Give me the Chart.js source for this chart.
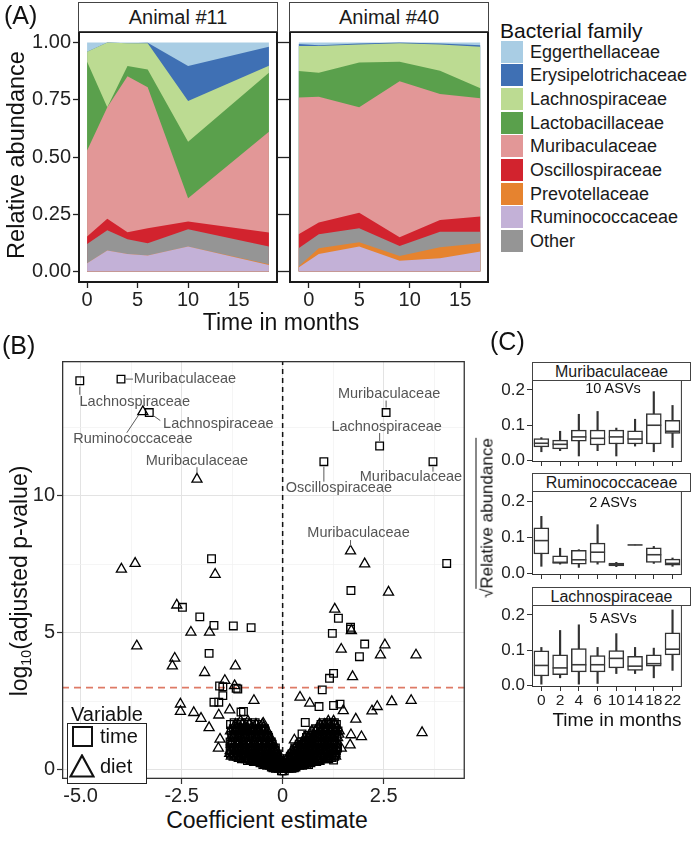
<!DOCTYPE html>
<html>
<head>
<meta charset="utf-8">
<script src="https://cdn.jsdelivr.net/npm/chart.js@4.4.1/dist/chart.umd.min.js"></script>
<style>
  html, body { margin: 0; padding: 0; background: #fff; }
  #fig { position: relative; width: 692px; height: 848px; overflow: hidden; font-family: "Liberation Sans", Arial, sans-serif; color: #111; }
  #fig canvas { position: absolute; }
  .txt { position: absolute; white-space: nowrap; line-height: 1; }
  .strip { position: absolute; box-sizing: border-box; border: 1px solid #444; background: #fff; text-align: center; color: #1a1a1a; }
  .key { position: absolute; box-sizing: border-box; }
  sub { font-size: 0.62em; vertical-align: -0.3em; line-height: 0; }
</style>
</head>
<body>
<div id="fig"></div>
<script>
/* ── DATA: (A) relative abundance per family, two animals ── */
const families = ['Eggerthellaceae', 'Erysipelotrichaceae', 'Lachnospiraceae', 'Lactobacillaceae',
  'Muribaculaceae', 'Oscillospiraceae', 'Prevotellaceae', 'Ruminococcaceae', 'Other'];
const familyColors = ['#A9CDE4', '#3F70B4', '#BCDB92', '#5AA04C', '#E29797', '#D2232E', '#E6832F', '#C3B1D7', '#959595'];
// bottom -> top of the stack
const stackOrder = ['Ruminococcaceae', 'Prevotellaceae', 'Other', 'Oscillospiraceae', 'Muribaculaceae',
  'Lactobacillaceae', 'Lachnospiraceae', 'Erysipelotrichaceae', 'Eggerthellaceae'];

const months11 = [0, 2, 4, 6, 10, 18];
const months40 = [-1, 1, 5, 9, 13, 17];
// rows follow `families`
const abund11 = [
  [0.041, 0.000, 0.004, 0.001, 0.103, 0.019],
  [0.000, 0.000, 0.000, 0.002, 0.153, 0.083],
  [0.043, 0.283, 0.099, 0.115, 0.177, 0.030],
  [0.388, 0.000, 0.044, 0.078, 0.247, 0.258],
  [0.375, 0.486, 0.682, 0.615, 0.102, 0.440],
  [0.033, 0.051, 0.030, 0.065, 0.033, 0.061],
  [0.000, 0.000, 0.000, 0.000, 0.000, 0.003],
  [0.036, 0.092, 0.077, 0.070, 0.109, 0.029],
  [0.084, 0.088, 0.064, 0.054, 0.076, 0.077],
];
const abund40 = [
  [0.007, 0.012, 0.005, 0.000, 0.005, 0.012],
  [0.008, 0.004, 0.004, 0.004, 0.004, 0.007],
  [0.110, 0.116, 0.078, 0.080, 0.115, 0.181],
  [0.115, 0.105, 0.196, 0.085, 0.101, 0.044],
  [0.597, 0.549, 0.460, 0.681, 0.550, 0.516],
  [0.061, 0.051, 0.068, 0.038, 0.051, 0.066],
  [0.004, 0.025, 0.019, 0.021, 0.048, 0.037],
  [0.018, 0.077, 0.109, 0.047, 0.058, 0.087],
  [0.080, 0.061, 0.061, 0.044, 0.068, 0.050],
];
const abundTicks = [0, 0.25, 0.5, 0.75, 1];
const abundTickLabels = ['0.00', '0.25', '0.50', '0.75', '1.00'];
const monthTicks = [0, 5, 10, 15];
const monthTickLabels = ['0', '5', '10', '15'];

/* ── DATA: (B) volcano plot ── */
const coefTicks = [-5, -3.75, -2.5, -1.25, 0, 1.25, 2.5, 3.75];
const coefTickLabels = ['-5.0', '', '-2.5', '', '0', '', '2.5', ''];
const pvalTicks = [0, 2.5, 5, 7.5, 10, 12.5];
const pvalTickLabels = ['0', '', '5', '', '10', ''];
const coefRange = [-5.46, 4.51];
const pvalRange = [-0.33, 14.91];
const pThreshold = 3;

const timePoints = [
  [-1.76, 7.70], [-2.48, 5.93], [-2.05, 5.58], [-1.70, 5.27], [-1.22, 5.25], [-0.78, 5.19], [-1.82, 4.25],
  [-1.56, 3.06], [-1.48, 3.03], [-1.11, 2.95], [-1.48, 2.71], [-1.70, 2.47], [-1.58, 2.47], [-1.03, 2.11],
  [-0.97, 2.13], [-1.15, 2.98],
  [4.06, 7.53], [1.69, 6.54], [1.38, 5.53], [1.68, 5.20], [1.68, 5.13], [1.23, 4.98], [2.03, 4.59],
  [1.90, 4.13], [1.26, 3.52], [1.16, 3.34], [0.98, 2.92], [0.90, 2.31], [1.26, 2.35], [1.42, 2.40],
  [0.56, 1.73], [0.48, 1.31], [1.26, 0.36],
];
const dietPoints = [
  [-3.99, 7.32], [-3.65, 7.53], [-1.67, 7.13], [-2.62, 6.01], [-2.27, 5.02], [-1.81, 5.02], [-3.61, 4.52],
  [-2.67, 4.07], [-2.73, 3.79], [-1.93, 3.55], [-1.17, 3.79], [-1.43, 3.26], [-1.19, 3.07], [-0.71, 2.53],
  [-2.53, 2.40], [-2.53, 2.13], [-2.20, 2.09], [-2.02, 1.88], [-1.82, 1.54], [-1.58, 2.00], [-1.31, 2.19],
  [-1.59, 0.79], [-1.55, 1.12], [-0.48, 1.70],
  [2.03, 7.51], [2.62, 6.48], [1.29, 5.86], [1.70, 5.08], [1.45, 4.40], [2.53, 4.56], [2.42, 4.19],
  [3.30, 4.19], [1.73, 3.40], [0.43, 2.65], [0.67, 2.43], [1.50, 2.16], [2.70, 2.49], [3.18, 2.53],
  [2.34, 2.31], [2.21, 2.15], [1.81, 1.85], [0.29, 1.09], [1.95, 1.21], [1.69, 1.28], [1.67, 0.91],
  [1.45, 0.79], [3.45, 1.36],
];
// the dense cloud near zero, read row by row: [y, [x, x, ...]]
const timeCloudRows = [
  [-0.03, [-0.03, 0.0, 0.04]],
  [0.08, [-0.04, -0.11, -0.18, -0.24, 0.11, 0.18, 0.25, 0.29]],
  [0.11, [-0.08, -0.15, -0.21, -0.28, 0.07, 0.14, 0.21, 0.27, 0.33]],
  [0.2, [-0.08, -0.16, -0.27, -0.34, -0.44, -0.49, 0.1, 0.21, 0.29, 0.41, 0.49, 0.59, 0.64]],
  [0.26, [-0.05, -0.13, -0.22, -0.3, -0.39, -0.47, -0.56, 0.06, 0.16, 0.26, 0.35, 0.45, 0.54, 0.63, 0.7]],
  [0.34, [-0.11, -0.23, -0.32, -0.45, -0.54, -0.67, -0.76, -0.87, 0.15, 0.24, 0.37, 0.47, 0.61, 0.71, 0.85, 0.93]],
  [0.41, [-0.07, -0.18, -0.28, -0.39, -0.5, -0.61, -0.71, -0.82, -0.93, -1.02, 0.11, 0.21, 0.31, 0.42, 0.53, 0.64, 0.74, 0.85, 0.96, 1.06, 1.14]],
  [0.5, [-0.16, -0.26, -0.41, -0.51, -0.66, -0.77, -0.91, -1.01, -1.15, -1.23, 0.19, 0.33, 0.43, 0.57, 0.67, 0.81, 0.93, 1.05, 1.15, 1.29]],
  [0.58, [-0.13, -0.23, -0.36, -0.47, -0.6, -0.72, -0.85, -0.97, -1.08, -1.2, -1.29, 0.23, 0.3, 0.41, 0.52, 0.64, 0.75, 0.88, 0.99, 1.11, 1.22, 1.32]],
  [0.7, [-0.21, -0.32, -0.48, -0.59, -0.75, -0.87, -1.01, -1.13, -1.28, 0.29, 0.39, 0.53, 0.63, 0.77, 0.87, 1.01, 1.11, 1.25, 1.33]],
  [0.8, [-0.18, -0.29, -0.43, -0.55, -0.68, -0.82, -0.95, -1.08, -1.21, -1.3, 0.3, 0.43, 0.52, 0.66, 0.76, 0.9, 1.0, 1.14, 1.24, 1.36]],
  [0.94, [-0.26, -0.41, -0.53, -0.69, -0.81, -0.97, -1.09, -1.25, 0.41, 0.54, 0.64, 0.78, 0.88, 1.02, 1.12, 1.26, 1.34]],
  [1.02, [-0.28, -0.37, -0.51, -0.65, -0.78, -0.92, -1.05, -1.18, -1.3, 0.46, 0.57, 0.69, 0.8, 0.92, 1.04, 1.15, 1.28]],
  [1.18, [-0.35, -0.47, -0.63, -0.75, -0.91, -1.03, -1.19, 0.59, 0.69, 0.83, 0.93, 1.07, 1.17, 1.29]],
  [1.26, [-0.37, -0.44, -0.58, -0.72, -0.86, -0.99, -1.13, -1.26, 0.62, 0.74, 0.86, 0.98, 1.1, 1.22, 1.34]],
  [1.42, [-0.43, -0.55, -0.71, -0.83, -0.99, -1.11, -1.27, 0.77, 0.87, 1.01, 1.11, 1.25, 1.37]],
  [1.5, [-0.45, -0.53, -0.67, -0.81, -0.94, -1.08, -1.22, 0.82, 0.93, 1.05, 1.17, 1.3]],
  [1.66, [-0.61, -0.77, -0.96, -1.13, -1.29, 0.95, 1.09, 1.19, 1.33]],
  [1.72, [-0.68, -0.87, -1.02, -1.2, 1.01, 1.15, 1.28]],
];
const dietCloudRows = [
  [0.03, [-0.07, -0.14, 0.05, 0.12, 0.19]],
  [0.06, [-0.03, -0.1, -0.18, 0.02, 0.09, 0.15, 0.22]],
  [0.14, [-0.05, -0.13, -0.21, -0.29, -0.36, 0.09, 0.16, 0.24, 0.31, 0.39, 0.46]],
  [0.19, [-0.03, -0.11, -0.19, -0.27, -0.35, -0.42, 0.05, 0.13, 0.2, 0.28, 0.36, 0.44, 0.52]],
  [0.27, [-0.09, -0.19, -0.31, -0.4, -0.52, -0.6, -0.69, 0.11, 0.23, 0.32, 0.45, 0.54, 0.66, 0.73, 0.81]],
  [0.34, [-0.05, -0.15, -0.26, -0.36, -0.47, -0.57, -0.66, -0.78, 0.08, 0.19, 0.29, 0.39, 0.5, 0.6, 0.7, 0.79, 0.88]],
  [0.42, [-0.14, -0.24, -0.38, -0.48, -0.62, -0.72, -0.86, -0.96, -1.07, 0.17, 0.27, 0.41, 0.51, 0.65, 0.75, 0.89, 0.99, 1.11, 1.19]],
  [0.5, [-0.1, -0.21, -0.34, -0.45, -0.58, -0.7, -0.83, -0.94, -1.07, -1.17, -1.27, 0.14, 0.25, 0.38, 0.49, 0.61, 0.72, 0.86, 0.96, 1.1, 1.2, 1.31]],
  [0.6, [-0.17, -0.31, -0.42, -0.57, -0.69, -0.84, -0.95, -1.11, -1.21, -1.31, 0.25, 0.35, 0.49, 0.59, 0.73, 0.83, 0.97, 1.07, 1.21, 1.29]],
  [0.7, [-0.15, -0.26, -0.39, -0.51, -0.66, -0.78, -0.92, -1.04, -1.18, -1.3, 0.23, 0.33, 0.46, 0.58, 0.7, 0.81, 0.94, 1.05, 1.18, 1.29]],
  [0.82, [-0.24, -0.35, -0.51, -0.63, -0.79, -0.91, -1.07, -1.19, 0.33, 0.47, 0.57, 0.71, 0.81, 0.95, 1.05, 1.19, 1.31]],
  [0.94, [-0.22, -0.33, -0.47, -0.59, -0.74, -0.86, -1.01, -1.13, -1.27, 0.36, 0.49, 0.59, 0.71, 0.83, 0.95, 1.07, 1.2, 1.32]],
  [1.06, [-0.31, -0.43, -0.59, -0.71, -0.87, -0.99, -1.15, -1.26, 0.51, 0.6, 0.74, 0.84, 0.98, 1.08, 1.22, 1.31]],
  [1.18, [-0.3, -0.41, -0.55, -0.68, -0.83, -0.96, -1.1, -1.24, 0.55, 0.64, 0.77, 0.88, 1.01, 1.12, 1.25, 1.36]],
  [1.3, [-0.39, -0.51, -0.67, -0.79, -0.95, -1.07, -1.23, 0.67, 0.77, 0.91, 1.01, 1.15, 1.25, 1.39]],
  [1.42, [-0.38, -0.49, -0.63, -0.76, -0.9, -1.02, -1.17, -1.29, 0.72, 0.82, 0.95, 1.06, 1.19, 1.3, 1.4]],
  [1.54, [-0.48, -0.6, -0.76, -0.88, -1.04, -1.16, 0.87, 0.97, 1.11, 1.21, 1.35]],
  [1.66, [-0.5, -0.66, -0.83, -1.0, -1.17, 0.91, 1.03, 1.16, 1.28]],
  [1.78, [-0.86, -1.04, 1.13, 1.26]],
];
// labelled points
const calloutX = [-5.02, -4.0, -3.46, -3.30, -2.12, 2.56, 2.40, 1.02, 3.72, 1.68];
const calloutY = [14.19, 14.25, 13.06, 13.03, 10.6, 13.03, 11.81, 11.24, 11.24, 7.98];
const calloutVar = ['time', 'time', 'diet', 'time', 'diet', 'time', 'time', 'time', 'time', 'diet'];
const calloutName = ['Lachnospiraceae', 'Muribaculaceae', 'Ruminococcaceae', 'Lachnospiraceae', 'Muribaculaceae',
  'Muribaculaceae', 'Lachnospiraceae', 'Oscillospiraceae', 'Muribaculaceae', 'Muribaculaceae'];

/* ── DATA: (C) box plots, [min, q1, median, q3, max] per time point ── */
const boxMonths = ['0', '2', '4', '6', '10', '14', '18', '22'];
const muribBoxes = [
  [0.025, 0.039, 0.049, 0.062, 0.065], [0.028, 0.033, 0.046, 0.058, 0.083], [0.013, 0.055, 0.067, 0.086, 0.131],
  [0.028, 0.044, 0.063, 0.086, 0.139], [0.013, 0.047, 0.067, 0.086, 0.092], [0.041, 0.047, 0.061, 0.084, 0.117],
  [0.025, 0.047, 0.100, 0.133, 0.195], [0.037, 0.077, 0.083, 0.114, 0.156],
];
const ruminoBoxes = [
  [0.020, 0.054, 0.091, 0.126, 0.158], [0.026, 0.028, 0.031, 0.049, 0.070], [0.017, 0.026, 0.038, 0.064, 0.066],
  [0.026, 0.031, 0.059, 0.084, 0.135], [0.019, 0.021, 0.025, 0.029, 0.031], [0.079, 0.079, 0.079, 0.079, 0.079],
  [0.028, 0.031, 0.052, 0.071, 0.075], [0.020, 0.023, 0.028, 0.040, 0.043],
];
const lachnoBoxes = [
  [0.004, 0.027, 0.057, 0.098, 0.108], [0.022, 0.031, 0.050, 0.087, 0.156], [0.004, 0.039, 0.059, 0.105, 0.172],
  [0.006, 0.039, 0.059, 0.085, 0.108], [0.034, 0.050, 0.077, 0.099, 0.147], [0.034, 0.043, 0.055, 0.083, 0.108],
  [0.022, 0.055, 0.062, 0.087, 0.106], [0.043, 0.087, 0.103, 0.149, 0.214],
];
const boxTicks = [0, 0.1, 0.2];
const boxTickLabels = ['0.0', '0.1', '0.2'];

/* ── LAYOUT (pixels) ── */
const FONT = '"Liberation Sans", Arial, sans-serif';
const INK = '#1e1e1e';
// text-centre offset [dx, dy] and leader segment [x0, y0, x1, y1] relative to each labelled point
const calloutLayout = [
  { text: [55, 21], line: [0, 6, 0, 14] },
  { text: [64, 0], line: [5, 0, 12, 0] },
  { text: [-10, 27], line: [-4, 3, -16, 21] },
  { text: [69, 11], line: [4, 3, 11, 8] },
  { text: [0, -18], line: [0, -6, 0, -12] },
  { text: [3, -19], line: [0, -5, 0, -12] },
  { text: [7, -19], line: [0, -5, 0, -13] },
  { text: [15, 26], line: [0, 5, 0, 20] },
  { text: [-22, 15], line: [0, 5, 0, 10] },
  { text: [8, -18], line: [0, -5, 0, -11] },
];

Chart.defaults.font.family = FONT;
Chart.defaults.color = INK;

const fig = document.getElementById('fig');

function makeCanvas(left, top, w, h) {
  const c = document.createElement('canvas');
  c.width = w; c.height = h;
  c.style.left = left + 'px'; c.style.top = top + 'px';
  c.style.width = w + 'px'; c.style.height = h + 'px';
  fig.appendChild(c);
  return c;
}

function addText(html, x, y, size, o = {}) {
  const d = document.createElement('div');
  d.className = 'txt';
  d.innerHTML = html;
  d.style.fontSize = size + 'px';
  d.style.left = x + 'px';
  d.style.top = y + 'px';
  const ax = o.anchor === 'left' ? '0' : '-50%';
  d.style.transform = `translate(${ax},-50%)` + (o.rotate ? ` rotate(${o.rotate}deg)` : '');
  if (o.color) d.style.color = o.color;
  fig.appendChild(d);
  return d;
}

function addStrip(text, left, top, w, h, size) {
  const d = document.createElement('div');
  d.className = 'strip';
  Object.assign(d.style, { left: left + 'px', top: top + 'px', width: w + 'px', height: h + 'px',
    fontSize: size + 'px', lineHeight: (h - 2) + 'px' });
  d.textContent = text;
  fig.appendChild(d);
}

// fixed axis sizes so the plot panels land where the figure has them
const fixW = w => s => { s.width = w; s.paddingTop = 0; s.paddingBottom = 0; };
const fixH = h => s => { s.height = h; s.paddingLeft = 0; s.paddingRight = 0; };
const setTicks = vals => s => { s.ticks = vals.map(v => ({ value: v })); };

/* ── PLUGINS ── */
const framePlugin = {
  id: 'frame',
  afterDraw(chart, args, opts) {
    if (!opts.width) return;
    const { left, top, right, bottom } = chart.chartArea;
    const c = chart.ctx, h = opts.width / 2;
    c.save();
    c.strokeStyle = opts.color || '#222';
    c.lineWidth = opts.width;
    c.strokeRect(left + h, top + h, right - left - opts.width, bottom - top - opts.width);
    c.restore();
  }
};

const calloutPlugin = {
  id: 'callouts',
  afterDatasetsDraw(chart, args, opts) {
    if (!opts.items) return;
    const { ctx, scales: { x, y } } = chart;
    ctx.save();
    ctx.strokeStyle = '#5a5a5a';
    ctx.fillStyle = '#555';
    ctx.lineWidth = 1;
    ctx.font = `14.5px ${FONT}`;
    ctx.textAlign = 'center';
    ctx.textBaseline = 'middle';
    opts.items.forEach(it => {
      const px = x.getPixelForValue(it.x), py = y.getPixelForValue(it.y);
      ctx.beginPath();
      ctx.moveTo(px + it.line[0], py + it.line[1]);
      ctx.lineTo(px + it.line[2], py + it.line[3]);
      ctx.stroke();
      ctx.fillText(it.name, px + it.text[0], py + it.text[1]);
    });
    ctx.restore();
  }
};
Chart.register(framePlugin, calloutPlugin);

const baseOpts = { responsive: false, animation: false, devicePixelRatio: 1,
  plugins: { legend: { display: false }, tooltip: { enabled: false } } };

/* ── (A) STACKED AREAS ── */
function stackChart(canvas, months, abund, xRange, yAxisW, yTickLen, showYLabels) {
  // each layer filled to the origin on a stacked scale; upper layers sit underneath lower ones
  const datasets = stackOrder.map(name => {
    const i = families.indexOf(name);
    return {
      label: name,
      data: months.map((m, j) => ({ x: m, y: abund[i][j] })),
      backgroundColor: familyColors[i],
      borderWidth: 0, pointRadius: 0, fill: 'origin', tension: 0,
    };
  });
  return new Chart(canvas, {
    type: 'line',
    data: { datasets },
    options: {
      ...baseOpts,
      layout: { padding: { top: 10 } },
      plugins: { ...baseOpts.plugins, frame: { width: 2, color: '#1a1a1a' } },
      scales: {
        x: {
          type: 'linear', min: xRange[0], max: xRange[1],
          afterBuildTicks: setTicks(monthTicks), afterFit: fixH(28),
          grid: { drawOnChartArea: false, tickLength: 5, tickColor: '#222', tickWidth: 1.3 },
          border: { display: false },
          ticks: { font: { size: 20 }, color: '#222', padding: 0, maxRotation: 0, autoSkip: false,
            callback: (v, i) => monthTickLabels[i] },
        },
        y: {
          stacked: true, min: -0.05, max: 1.05,
          afterBuildTicks: setTicks(abundTicks), afterFit: fixW(yAxisW),
          grid: { drawOnChartArea: false, tickLength: yTickLen, tickColor: '#222', tickWidth: 1.3 },
          border: { display: false },
          ticks: { font: { size: 20 }, color: '#222', padding: 2,
            callback: (v, i) => showYLabels ? abundTickLabels[i] : '' },
        },
      },
    },
  });
}

stackChart(makeCanvas(0, 21, 278, 290), months11, abund11, [-0.9, 18.9], 78, 5, true);
stackChart(makeCanvas(278, 21, 211, 290), months40, abund40, [-1.95, 17.85], 11, 11, false);

addStrip('Animal #11', 78, 2, 200, 30, 20);
addStrip('Animal #40', 289, 2, 200, 30, 20);
addText('(A)', 4, 15, 25, { anchor: 'left' });
addText('Relative abundance', 17, 155, 23.5, { rotate: -90 });
addText('Time in months', 281, 322, 23);

// legend
addText('Bacterial family', 500, 30, 21, { anchor: 'left' });
families.forEach((name, i) => {
  const cy = 51.7 + i * 23.66;
  const k = document.createElement('div');
  k.className = 'key';
  Object.assign(k.style, { left: '501px', top: (cy - 11) + 'px', width: '22px', height: '22px', background: familyColors[i] });
  fig.appendChild(k);
  addText(name, 530, cy, 18, { anchor: 'left', color: '#1a1a1a' });
});

/* ── (B) VOLCANO ── */
const rowsToPoints = rows => rows.flatMap(([y, xs]) => xs.map(x => ({ x, y })));
const pairs = list => list.map(([x, y]) => ({ x, y }));
const calloutPts = v => calloutX.map((x, i) => ({ x, y: calloutY[i], v: calloutVar[i] }))
  .filter(p => p.v === v).map(({ x, y }) => ({ x, y }));

const shapeStyle = (style, r) => ({
  showLine: false, pointStyle: style, pointRadius: r, pointHoverRadius: r,
  pointBorderColor: '#000', borderColor: '#000', pointBorderWidth: 1.3,
  pointBackgroundColor: 'rgba(0,0,0,0)', backgroundColor: 'rgba(0,0,0,0)', order: 1,
});

new Chart(makeCanvas(0, 351, 472, 454), {
  type: 'scatter',
  data: {
    datasets: [
      { label: 'diet', data: [...pairs(dietPoints), ...rowsToPoints(dietCloudRows), ...calloutPts('diet')], ...shapeStyle('triangle', 5.8) },
      { label: 'time', data: [...pairs(timePoints), ...rowsToPoints(timeCloudRows), ...calloutPts('time')], ...shapeStyle('rect', 5.4) },
      { data: [{ x: 0, y: pvalRange[0] }, { x: 0, y: pvalRange[1] }], showLine: true, pointRadius: 0,
        borderColor: '#111', borderWidth: 1.5, borderDash: [5, 4], order: 2 },
      { data: [{ x: coefRange[0], y: pThreshold }, { x: coefRange[1], y: pThreshold }], showLine: true, pointRadius: 0,
        borderColor: '#DE7A66', borderWidth: 1.6, borderDash: [7, 5], order: 2 },
    ],
  },
  options: {
    ...baseOpts,
    layout: { padding: { top: 10 } },
    plugins: {
      ...baseOpts.plugins,
      frame: { width: 1.3, color: '#333' },
      callouts: { items: calloutX.map((x, i) => ({ x, y: calloutY[i], name: calloutName[i], ...calloutLayout[i] })) },
    },
    scales: {
      x: {
        type: 'linear', min: coefRange[0], max: coefRange[1],
        afterBuildTicks: setTicks(coefTicks), afterFit: fixH(26),
        grid: {
          color: c => coefTickLabels[c.index] ? '#e3e3e3' : '#f1f1f1',
          lineWidth: c => coefTickLabels[c.index] ? 1 : 0.7,
          tickColor: c => coefTickLabels[c.index] ? '#333' : 'rgba(0,0,0,0)',
          tickLength: 5, tickWidth: 1.2,
        },
        border: { display: false },
        ticks: { font: { size: 20 }, color: '#222', padding: 0, maxRotation: 0, autoSkip: false,
          callback: (v, i) => coefTickLabels[i] },
      },
      y: {
        type: 'linear', min: pvalRange[0], max: pvalRange[1],
        afterBuildTicks: setTicks(pvalTicks), afterFit: fixW(62),
        grid: {
          color: c => pvalTickLabels[c.index] ? '#e3e3e3' : '#f1f1f1',
          lineWidth: c => pvalTickLabels[c.index] ? 1 : 0.7,
          tickColor: c => pvalTickLabels[c.index] ? '#333' : 'rgba(0,0,0,0)',
          tickLength: 5, tickWidth: 1.2,
        },
        border: { display: false },
        ticks: { font: { size: 20 }, color: '#222', padding: 2, autoSkip: false,
          callback: (v, i) => pvalTickLabels[i] },
      },
    },
  },
});

addText('(B)', 2, 345, 25, { anchor: 'left' });
addText('log<sub>10</sub>(adjusted p-value)', 19, 581, 23, { rotate: -90 });
addText('Coefficient estimate', 267, 820, 23);

// variable legend
addText('Variable', 71, 714, 20, { anchor: 'left' });
const lgBox = document.createElement('div');
lgBox.className = 'key';
Object.assign(lgBox.style, { left: '67px', top: '723px', width: '80px', height: '61px', border: '1.5px solid #222', background: '#fff' });
fig.appendChild(lgBox);
const sq = document.createElement('div');
sq.className = 'key';
Object.assign(sq.style, { left: '72px', top: '726px', width: '21px', height: '21px', border: '2px solid #111' });
fig.appendChild(sq);
const tri = document.createElement('div');
tri.className = 'key';
Object.assign(tri.style, { left: '69px', top: '754px', width: '26px', height: '24px' });
tri.innerHTML = '<svg width="26" height="24"><polygon points="13,1.5 24.5,22.5 1.5,22.5" fill="none" stroke="#111" stroke-width="2.2" stroke-linejoin="miter"/></svg>';
fig.appendChild(tri);
addText('time', 100, 736, 20, { anchor: 'left' });
addText('diet', 100, 766, 20, { anchor: 'left' });

/* ── (C) BOX PLOTS ── */
function boxChart(canvas, boxes, xAxisH, showX) {
  return new Chart(canvas, {
    type: 'bar',
    data: {
      labels: boxMonths,
      datasets: [
        { type: 'line', data: boxes.map(b => b[2]), showLine: false, pointStyle: 'line',
          pointRadius: 7.5, pointHoverRadius: 7.5, pointBorderColor: '#3a3a3a', borderColor: '#3a3a3a',
          pointBorderWidth: 1.6, order: 1 },
        { data: boxes.map(b => [b[1], b[3]]), backgroundColor: '#fff', borderColor: '#333', borderWidth: 1.5,
          borderSkipped: false, barThickness: 15, grouped: false, order: 2 },
        { data: boxes.map(b => [b[0], b[4]]), backgroundColor: '#333', borderWidth: 0,
          barThickness: 1.5, grouped: false, order: 3 },
      ],
    },
    options: {
      ...baseOpts,
      layout: { padding: { top: 10 } },
      plugins: { ...baseOpts.plugins, frame: { width: 1, color: '#333' } },
      scales: {
        x: {
          type: 'category', offset: true, afterFit: fixH(xAxisH),
          grid: { drawOnChartArea: false, offset: false, tickLength: 4, tickColor: '#333', tickWidth: 1 },
          border: { display: false },
          ticks: { font: { size: 15.5 }, color: '#222', padding: 0, maxRotation: 0, autoSkip: false,
            callback: (v, i) => showX ? boxMonths[i] : '' },
        },
        y: {
          type: 'linear', min: -0.004, max: 0.228,
          afterBuildTicks: setTicks(boxTicks), afterFit: fixW(40),
          grid: { drawOnChartArea: false, tickLength: 5, tickColor: '#333', tickWidth: 1 },
          border: { display: false },
          ticks: { font: { size: 17 }, color: '#222', padding: 2, callback: (v, i) => boxTickLabels[i] },
        },
      },
    },
  });
}

boxChart(makeCanvas(492, 370, 199, 102), muribBoxes, 10, false);
boxChart(makeCanvas(492, 481, 199, 104), ruminoBoxes, 10, false);
boxChart(makeCanvas(492, 595, 199, 118), lachnoBoxes, 26, true);

addStrip('Muribaculaceae', 532, 362, 159, 19, 16);
addStrip('Ruminococcaceae', 532, 473, 159, 19, 16);
addStrip('Lachnospiraceae', 532, 587, 159, 19, 16);
addText('10 ASVs', 613, 388, 14.5);
addText('2 ASVs', 613, 502, 14.5);
addText('5 ASVs', 613, 618, 14.5);
addText('(C)', 490, 341, 25, { anchor: 'left' });
addText('√<span style="border-top:1.3px solid #111;padding-top:1px">Relative abundance</span>', 487, 518, 17, { rotate: -90 });
addText('Time in months', 617, 719, 19);
</script>
</body>
</html>
